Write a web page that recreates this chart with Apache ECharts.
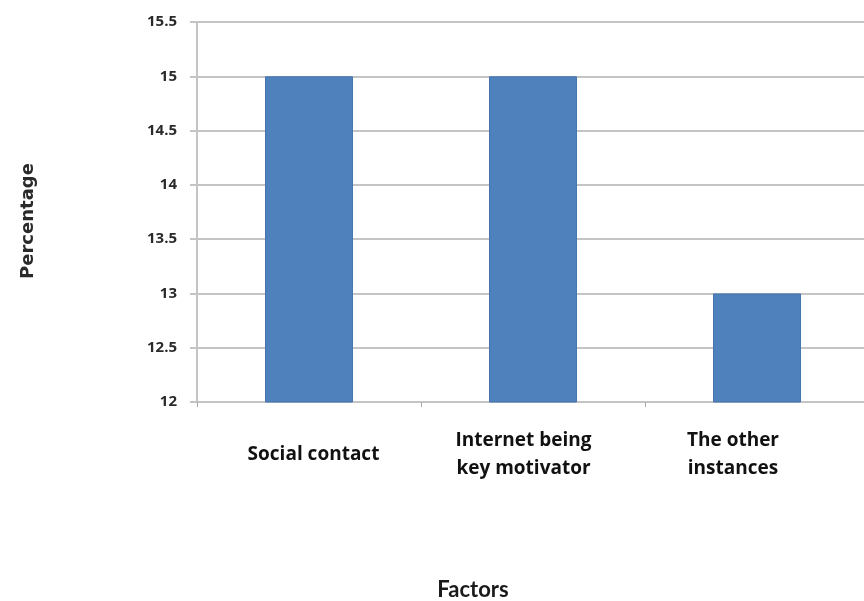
<!DOCTYPE html>
<html>
<head>
<meta charset="utf-8">
<script src="https://cdn.jsdelivr.net/npm/echarts@6/dist/echarts.min.js"></script>
<style>
  html, body { margin: 0; padding: 0; background: #ffffff; }
  #chart { width: 864px; height: 601px; }
</style>
</head>
<body>
<div id="chart"></div>
<script>
// Factors and their percentages
const categories = ['Social contact', 'Internet being\nkey motivator', 'The other\ninstances'];
const percentages = [15, 15, 13];
const yTicks = { min: 12, max: 15.5, step: 0.5 };

const chart = echarts.init(document.getElementById('chart'), null, { renderer: 'canvas' });

const gridColor = '#c4c4c4';
const labelFont = '"Open Sans", Lato, sans-serif';

// per-category label styles (small horizontal nudges under each bar)
const catLabel = (pad) => ({
  fontFamily: labelFont, fontWeight: 'bold', fontSize: 19, lineHeight: 28,
  color: '#111111', padding: pad
});

chart.setOption({
  animation: false,
  backgroundColor: '#ffffff',
  title: {
    text: 'Factors',
    left: 468,
    top: 574,
    textAlign: 'center',
    textStyle: { fontFamily: 'Lato, sans-serif', fontWeight: 'bold', fontSize: 22, color: '#1a1a1a' }
  },
  grid: { left: 197, right: -5, top: 22, bottom: 199, containLabel: false, outerBoundsMode: 'none' },
  xAxis: {
    type: 'category',
    data: categories,
    axisLine: { lineStyle: { color: gridColor, width: 2 } },
    axisTick: { show: true, length: 5, lineStyle: { color: '#a8a8a8', width: 1 } },
    axisLabel: {
      margin: 53,
      interval: 0,
      verticalAlign: 'middle',
      align: 'center',
      fontFamily: labelFont,
      fontWeight: 'bold',
      fontSize: 19,
      lineHeight: 28,
      color: '#111111',
      formatter: (value, index) => '{c' + index + '|' + value.split('\n').join('}\n{c' + index + '|') + '}',
      rich: {
        c0: catLabel([0, 0, 0, 9]),
        c1: catLabel([0, 19, 0, 0]),
        c2: catLabel([0, 48, 0, 0])
      }
    }
  },
  yAxis: {
    type: 'value',
    min: yTicks.min,
    max: yTicks.max,
    interval: yTicks.step,
    name: 'Percentage',
    nameLocation: 'middle',
    nameGap: 160,
    nameRotate: 90,
    nameTextStyle: {
      fontFamily: '"DejaVu Sans", sans-serif', fontWeight: 'bold', fontSize: 18, color: '#2a2a2a',
      padding: [0, 18, 0, 0]
    },
    axisLine: { show: true, lineStyle: { color: gridColor, width: 2 } },
    axisTick: { show: true, length: 7, lineStyle: { color: gridColor, width: 2 } },
    axisLabel: {
      margin: 20,
      fontFamily: labelFont,
      fontWeight: 'bold',
      fontSize: 15,
      color: '#2a2a2a'
    },
    splitLine: { lineStyle: { color: gridColor, width: 2 } }
  },
  series: [{
    type: 'bar',
    data: percentages,
    barWidth: 88,
    itemStyle: { color: '#4f81bd', borderColor: '#4674ad', borderWidth: 1 }
  }]
});
</script>
</body>
</html>
